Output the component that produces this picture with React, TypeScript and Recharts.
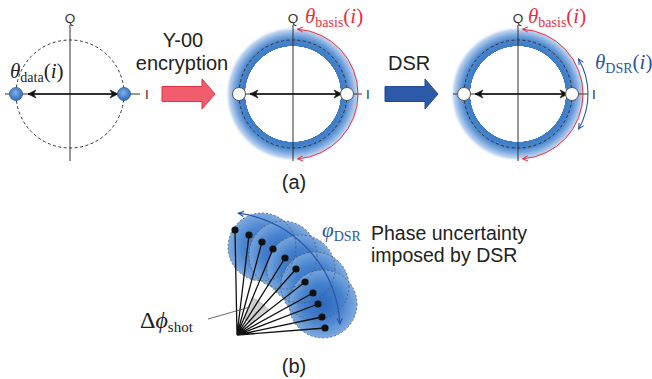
import React from 'react';
import { ComposedChart, Scatter, XAxis, YAxis } from 'recharts';

const W = 652;
const H = 379;

// ---- panel (a): three IQ planes ----
const planeCentres = [{ x: 70, y: 94 }, { x: 293, y: 94 }, { x: 518, y: 94 }];
const ringCentres = [{ x: 293, y: 94 }, { x: 518, y: 94 }];
const dataSymbols = [{ x: 16, y: 94 }, { x: 124, y: 94 }];
const maskedSymbols = [{ x: 239, y: 94 }, { x: 347, y: 94 }, { x: 464, y: 94 }, { x: 572, y: 94 }];
const iAxisEnds = [[5, 140], [233, 362], [453, 588]];
const qAxisEnds = [25, 161];
const doubleArrowEnds = [[28, 118], [250, 342], [475, 568]];
const bigArrowsRed = [{ x: 162, y: 94 }];
const bigArrowsBlue = [{ x: 385, y: 94 }];
const basisArcs = [{ x: 293, y: 94, from: 86, to: -86 }, { x: 518, y: 94, from: 86, to: -86 }];
const dsrArcs = [{ x: 518, y: 94, from: 30, to: -30 }];

const qLabels = [{ x: 70, y: 23, text: 'Q' }, { x: 293, y: 23, text: 'Q' }, { x: 518, y: 23, text: 'Q' }];
const iLabels = [{ x: 147, y: 99, text: 'I' }, { x: 368, y: 99, text: 'I' }, { x: 594, y: 99, text: 'I' }];
const centredLabels = [
  { x: 183, y: 47, text: 'Y-00' },
  { x: 182, y: 70, text: 'encryption' },
  { x: 294, y: 189, text: '(a)' },
  { x: 294, y: 373, text: '(b)' },
];
const leftLabels = [{ x: 388, y: 70, text: 'DSR' }];
const noteLabels = [{ x: 371, y: 240, text: 'Phase uncertainty' }, { x: 371, y: 262, text: 'imposed by DSR' }];

const blackMath = [{ x: 10, y: 78, pre: '', sym: 'θ', sub: 'data', arg: true }];
const redMath = [
  { x: 305, y: 23, pre: '', sym: 'θ', sub: 'basis', arg: true },
  { x: 528, y: 23, pre: '', sym: 'θ', sub: 'basis', arg: true },
];
const blueMath = [{ x: 595, y: 69, pre: '', sym: 'θ', sub: 'DSR', arg: true }];
const blueMathSmall = [{ x: 322, y: 237, pre: '', sym: 'φ', sub: 'DSR', arg: false }];
const shotMath = [{ x: 140, y: 328, pre: 'Δ', sym: 'ϕ', sub: 'shot', arg: false }];

// ---- panel (b): phase fan ----
const fanOrigin = { x: 237, y: 335 };
const fanTips = [
  { x: 235, y: 230 }, { x: 249, y: 235 }, { x: 262, y: 242 }, { x: 273, y: 249 },
  { x: 285, y: 258 }, { x: 296, y: 269 }, { x: 305, y: 282 }, { x: 313, y: 293 },
  { x: 318, y: 304 }, { x: 322, y: 317 }, { x: 325, y: 328 },
];
const blobCentres = [
  { x: 262, y: 247 }, { x: 283, y: 255 }, { x: 301, y: 269 }, { x: 315, y: 286 }, { x: 323, y: 304 },
];
const phiArc = [{ x: 222, y: 330, from: 82, to: 3 }];
const shotLeader = [{ x: 208, y: 319 }, { x: 250, y: 307 }];

const sans = '"Liberation Sans", Arial, sans-serif';
const serif = '"Liberation Serif", "Times New Roman", serif';

const rad = (a: number) => (a * Math.PI) / 180;
const Nothing = () => <g />;

const chevron = (x: number, y: number, dx: number, dy: number, len: number) => {
  const ang = Math.atan2(dy, dx);
  const a1 = ang + Math.PI - 0.45;
  const a2 = ang + Math.PI + 0.45;
  return `M${x + len * Math.cos(a1)},${y + len * Math.sin(a1)} L${x},${y} L${x + len * Math.cos(a2)},${y + len * Math.sin(a2)}`;
};

const arcShape = (r: number, color: string, width: number) => (p: any) => {
  const { cx, cy } = p;
  const { from, to } = p.payload;
  const pt = (a: number) => [cx + r * Math.cos(rad(a)), cy - r * Math.sin(rad(a))];
  const [x0, y0] = pt(from);
  const [x1, y1] = pt(to);
  const large = Math.abs(from - to) > 180 ? 1 : 0;
  return (
    <g fill="none" stroke={color} strokeWidth={width}>
      <path d={`M${x0},${y0} A${r},${r} 0 ${large} 1 ${x1},${y1}`} />
      <path d={chevron(x0, y0, -Math.sin(rad(from)), -Math.cos(rad(from)), 6)} />
      <path d={chevron(x1, y1, Math.sin(rad(to)), Math.cos(rad(to)), 6)} />
    </g>
  );
};

const ringShape = (p: any) => {
  const id = `ring-${Math.round(p.cx)}`;
  return (
    <g>
      <defs>
        <radialGradient id={id} cx="50%" cy="50%" r="50%">
          <stop offset="0.70" stopColor="#ffffff" stopOpacity={0} />
          <stop offset="0.705" stopColor="#3d7bc7" />
          <stop offset="0.80" stopColor="#4a86cc" />
          <stop offset="0.87" stopColor="#80aadf" />
          <stop offset="0.94" stopColor="#bcd3ef" />
          <stop offset="1" stopColor="#ffffff" stopOpacity={0} />
        </radialGradient>
      </defs>
      <circle cx={p.cx} cy={p.cy} r={68} fill={`url(#${id})`} />
    </g>
  );
};

const dashedCircle = (p: any) => (
  <circle cx={p.cx} cy={p.cy} r={54} fill="none" stroke="#333" strokeWidth={1} strokeDasharray="3 2.5" />
);

const dataDot = (p: any) => (
  <g>
    <defs>
      <radialGradient id="dataDot" cx="45%" cy="40%" r="60%">
        <stop offset="0" stopColor="#7fb0e8" />
        <stop offset="1" stopColor="#2f6bb8" />
      </radialGradient>
    </defs>
    <circle cx={p.cx} cy={p.cy} r={6.5} fill="url(#dataDot)" stroke="#2a5c9c" strokeWidth={0.8} />
  </g>
);

const maskedDot = (p: any) => (
  <circle cx={p.cx} cy={p.cy} r={6.5} fill="#fff" stroke="#555" strokeWidth={1} />
);

const arrowHead = (p: any) => {
  const { cx, cy } = p;
  const d = p.payload.dir;
  return (
    <path
      d={`M${cx},${cy} L${cx - d * 8},${cy - 4} L${cx - d * 5.5},${cy} L${cx - d * 8},${cy + 4} Z`}
      fill="#111"
      stroke="#111"
      strokeWidth={0.6}
    />
  );
};

const bigArrow = (fill: string, stroke: string) => (p: any) => {
  const { cx, cy } = p;
  return (
    <path
      d={`M${cx},${cy - 7.5} L${cx + 40},${cy - 7.5} L${cx + 40},${cy - 15} L${cx + 53},${cy} L${cx + 40},${cy + 15} L${cx + 40},${cy + 7.5} L${cx},${cy + 7.5} Z`}
      fill={fill}
      stroke={stroke}
      strokeWidth={1}
    />
  );
};

const textShape = (size: number, anchor: string, color: string) => (p: any) => (
  <text x={p.cx} y={p.cy} fontSize={size} textAnchor={anchor} fill={color} fontFamily={sans}>
    {p.payload.text}
  </text>
);

const mathShape = (size: number, subSize: number, color: string) => (p: any) => {
  const d = p.payload;
  return (
    <text x={p.cx} y={p.cy} fill={color} fontFamily={serif} fontSize={size}>
      {d.pre ? <tspan>{d.pre}</tspan> : null}
      <tspan fontStyle="italic">{d.sym}</tspan>
      <tspan fontSize={subSize} dy={4}>{d.sub}</tspan>
      {d.arg ? (
        <>
          <tspan dy={-4}>(</tspan>
          <tspan fontStyle="italic">i</tspan>
          <tspan>)</tspan>
        </>
      ) : null}
    </text>
  );
};

const blobFill = (p: any) => (
  <g>
    <defs>
      <radialGradient id="blob" cx="50%" cy="50%" r="50%">
        <stop offset="0" stopColor="#2a66bd" />
        <stop offset="0.6" stopColor="#4581cd" />
        <stop offset="1" stopColor="#78a6dd" />
      </radialGradient>
    </defs>
    <circle cx={p.cx} cy={p.cy} r={34} fill="url(#blob)" fillOpacity={0.95} />
  </g>
);

const blobOutline = (p: any) => (
  <circle cx={p.cx} cy={p.cy} r={34} fill="none" stroke="#4a5a70" strokeWidth={0.8} strokeDasharray="2 2" />
);

const angleOf = (t: { x: number; y: number }) =>
  (Math.atan2(fanOrigin.y - t.y, t.x - fanOrigin.x) * 180) / Math.PI;

const wedgeShape = (p: any) => {
  const { cx, cy } = p;
  const a0 = angleOf(fanTips[3]);
  const a1 = angleOf(fanTips[6]);
  const pt = (r: number, a: number) => `${cx + r * Math.cos(rad(a))},${cy - r * Math.sin(rad(a))}`;
  const ro = 40;
  const ri = 18;
  return (
    <path
      d={`M${pt(ro, a0)} A${ro},${ro} 0 0 1 ${pt(ro, a1)} L${pt(ri, a1)} A${ri},${ri} 0 0 0 ${pt(ri, a0)} Z`}
      fill="#cfcfcf"
      stroke="#999"
      strokeWidth={0.6}
    />
  );
};

const fanDot = (p: any) => <circle cx={p.cx} cy={p.cy} r={3.6} fill="#111" />;

// segments built from the arrays above
const iAxes = planeCentres.map((c, k) => [
  { x: iAxisEnds[k][0], y: c.y },
  { x: iAxisEnds[k][1], y: c.y },
]);
const qAxes = planeCentres.map((c) => [
  { x: c.x, y: qAxisEnds[0] },
  { x: c.x, y: qAxisEnds[1] },
]);
const doubleArrows = planeCentres.map((c, k) => [
  { x: doubleArrowEnds[k][0], y: c.y, dir: -1 },
  { x: doubleArrowEnds[k][1], y: c.y, dir: 1 },
]);
const fanLines = fanTips.flatMap((t) => [fanOrigin, t]);

export default function App() {
  return (
    <div style={{ position: 'absolute', left: 0, top: 0, width: W, height: H, background: '#fff' }}>
      <ComposedChart width={W} height={H} margin={{ top: 0, right: 0, bottom: 0, left: 0 }}>
        <XAxis type="number" dataKey="x" domain={[0, W]} allowDataOverflow hide />
        <YAxis type="number" dataKey="y" domain={[0, H]} allowDataOverflow reversed hide />

        {/* panel (a) */}
        <Scatter data={ringCentres} shape={ringShape} isAnimationActive={false} />
        <Scatter data={planeCentres} shape={dashedCircle} isAnimationActive={false} />
        {iAxes.map((s, k) => (
          <Scatter key={`i${k}`} data={s} shape={Nothing} line={{ stroke: '#333', strokeWidth: 1 }} isAnimationActive={false} />
        ))}
        {qAxes.map((s, k) => (
          <Scatter key={`q${k}`} data={s} shape={Nothing} line={{ stroke: '#333', strokeWidth: 1 }} isAnimationActive={false} />
        ))}
        {doubleArrows.map((s, k) => (
          <Scatter key={`d${k}`} data={s} shape={arrowHead} line={{ stroke: '#111', strokeWidth: 1.4 }} isAnimationActive={false} />
        ))}
        <Scatter data={dataSymbols} shape={dataDot} isAnimationActive={false} />
        <Scatter data={maskedSymbols} shape={maskedDot} isAnimationActive={false} />
        <Scatter data={basisArcs} shape={arcShape(65, '#e8303f', 1)} isAnimationActive={false} />
        <Scatter data={dsrArcs} shape={arcShape(70, '#2a55a8', 1.1)} isAnimationActive={false} />
        <Scatter data={bigArrowsRed} shape={bigArrow('#f15d6c', '#de3444')} isAnimationActive={false} />
        <Scatter data={bigArrowsBlue} shape={bigArrow('#2d5aa8', '#234a92')} isAnimationActive={false} />
        <Scatter data={qLabels} shape={textShape(13.5, 'middle', '#333')} isAnimationActive={false} />
        <Scatter data={iLabels} shape={textShape(13.5, 'middle', '#333')} isAnimationActive={false} />
        <Scatter data={centredLabels} shape={textShape(20, 'middle', '#222')} isAnimationActive={false} />
        <Scatter data={leftLabels} shape={textShape(20, 'start', '#222')} isAnimationActive={false} />
        <Scatter data={blackMath} shape={mathShape(21, 14, '#222')} isAnimationActive={false} />
        <Scatter data={redMath} shape={mathShape(21, 14, '#e8303f')} isAnimationActive={false} />
        <Scatter data={blueMath} shape={mathShape(21, 14, '#2a55a8')} isAnimationActive={false} />

        {/* panel (b) */}
        <Scatter data={blobCentres} shape={blobFill} isAnimationActive={false} />
        <Scatter data={blobCentres} shape={blobOutline} isAnimationActive={false} />
        <Scatter data={[fanOrigin]} shape={wedgeShape} isAnimationActive={false} />
        <Scatter data={fanLines} shape={Nothing} line={{ stroke: '#111', strokeWidth: 1.3 }} isAnimationActive={false} />
        <Scatter data={fanTips} shape={fanDot} isAnimationActive={false} />
        <Scatter data={phiArc} shape={arcShape(118, '#2a55a8', 1.2)} isAnimationActive={false} />
        <Scatter data={shotLeader} shape={Nothing} line={{ stroke: '#444', strokeWidth: 0.8 }} isAnimationActive={false} />
        <Scatter data={blueMathSmall} shape={mathShape(21, 14, '#2a55a8')} isAnimationActive={false} />
        <Scatter data={shotMath} shape={mathShape(24, 15, '#222')} isAnimationActive={false} />
        <Scatter data={noteLabels} shape={textShape(19.5, 'start', '#222')} isAnimationActive={false} />
      </ComposedChart>
    </div>
  );
}
